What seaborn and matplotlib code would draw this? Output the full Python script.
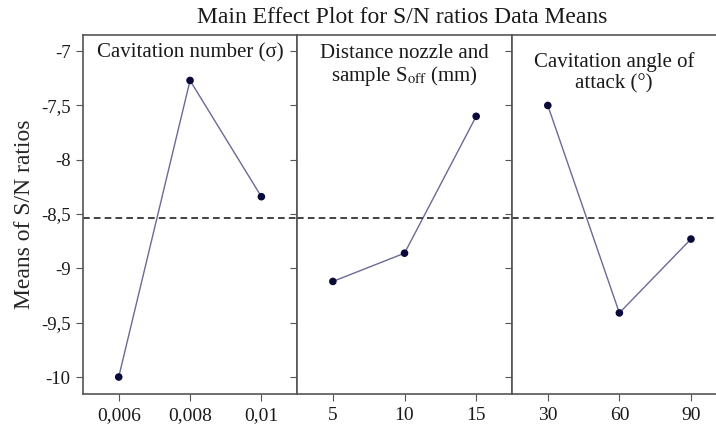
import numpy as np
import pandas as pd
import seaborn as sns
import matplotlib.pyplot as plt

# values
factors = ["Cavitation number (σ)",
           "Distance nozzle and\nsample S$_{\\rm off}$ (mm)",
           "Cavitation angle of\nattack (°)"]
cav_levels = ["0,006", "0,008", "0,01"]
dist_levels = ["5", "10", "15"]
angle_levels = ["30", "60", "90"]
cav_sn = [-10.00, -7.27, -8.34]
dist_sn = [-9.12, -8.86, -7.60]
angle_sn = [-7.50, -9.41, -8.73]
ytick_vals = [-7, -7.5, -8, -8.5, -9, -9.5, -10]
ytick_labels = ["-7", "-7,5", "-8", "-8,5", "-9", "-9,5", "-10"]

levels = [cav_levels, dist_levels, angle_levels]
values = [cav_sn, dist_sn, angle_sn]

rows = []
for f, lv, vals in zip(factors, levels, values):
    for i, (l, v) in enumerate(zip(lv, vals)):
        rows.append({"factor": f, "pos": i, "level": l, "sn": v})
df = pd.DataFrame(rows)
grand_mean = df["sn"].mean()

sns.set_style("white")
plt.rcParams["font.family"] = ["Liberation Serif", "DejaVu Serif"]
plt.rcParams["mathtext.fontset"] = "stix"
plt.rcParams["text.color"] = "#1a1a1a"

line_col = "#6a6a96"
dot_col = "#0a0a3a"
frame_col = "#555555"

fig = plt.figure(figsize=(7.16, 4.25), dpi=100)
gs = fig.add_gridspec(1, 3, left=0.116, right=1.0, top=0.918, bottom=0.072,
                      wspace=0, width_ratios=[214, 215, 204])

title_y = [0.949, 0.913, 0.894]
for k, f in enumerate(factors):
    ax = fig.add_subplot(gs[0, k])
    sub = df[df["factor"] == f]
    sns.lineplot(data=sub, x="pos", y="sn", ax=ax, color=line_col, lw=1.0)
    sns.scatterplot(data=sub, x="pos", y="sn", ax=ax, color=dot_col, s=30,
                    edgecolor="none", zorder=3)
    ax.axhline(grand_mean, color="#222222", ls=(0, (4, 2.5)), lw=1.2)
    ax.set_ylim(-10.16, -6.85)
    ax.set_xlim(-0.5, 2.5 if k < 2 else 2.35)
    ax.set_xticks(range(3))
    ax.set_xticklabels(sub["level"].tolist(), fontsize=14, color="#1a1a1a")
    ax.set_yticks(ytick_vals)
    if k == 0:
        ax.set_yticklabels(ytick_labels, fontsize=13.5, color="#1a1a1a")
        ax.set_ylabel("Means of S/N ratios", fontsize=17, labelpad=4)
    else:
        ax.set_yticklabels([])
        ax.set_ylabel("")
    ax.set_xlabel("")
    ax.tick_params(axis="both", direction="out", length=5, width=0.8,
                   color=frame_col, left=True, bottom=True, pad=4)
    for name, sp in ax.spines.items():
        sp.set_color(frame_col)
        sp.set_linewidth(1.2)
    if k == 2:
        ax.spines["right"].set_visible(False)
    ax.text(0.5, title_y[k], f, transform=ax.transAxes, ha="center",
            va="center", fontsize=15, linespacing=1.1)

fig.suptitle("Main Effect Plot for S/N ratios Data Means", fontsize=17,
             x=0.562, y=0.958, va="center")
fig.savefig("out.png", dpi=100)
